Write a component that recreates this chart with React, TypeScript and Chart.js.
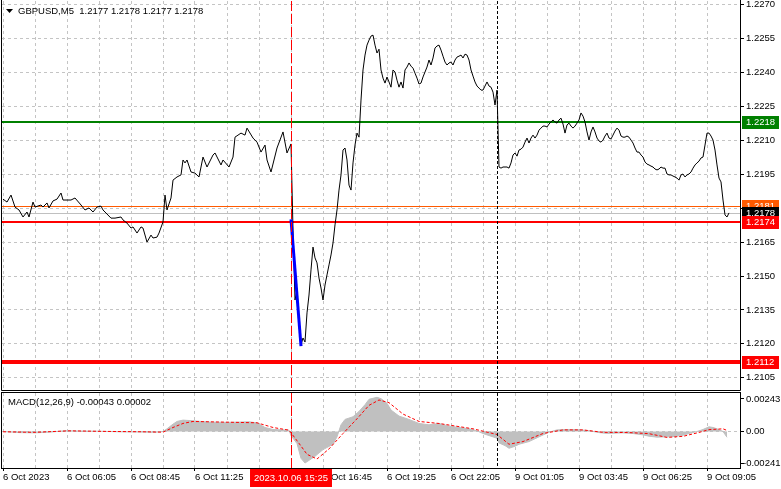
import React, { useEffect, useRef } from "react";
import { Chart, registerables } from "chart.js";
Chart.register(...registerables);

const FONT = '"Liberation Sans", Arial, sans-serif';
const FS = 9.5;

// ---- price (close) data: bar index -> close ----
const headBars = [0,2,4,6,8,10,12,13,15,16,19,20,22,23,25,27,29,30,34,36,39,41,43,45,47,49,50,54,56,59,60,62,64,65,67,69,70,72,74,75,77,78,80,81,82,84,85,87,89,90,91,92,94,96,98,100,102,105,106,109,110,113,115,116,119,121,122,125,127,129,131,132,134,137,140,142,144];
const headClose = [1.21840,1.21827,1.21858,1.21805,1.21792,1.21761,1.21783,1.21761,1.21827,1.21805,1.21814,1.21805,1.21823,1.21801,1.21832,1.21840,1.21867,1.21836,1.21836,1.21845,1.21814,1.21792,1.21801,1.21783,1.21805,1.21809,1.21792,1.21756,1.21756,1.21761,1.21748,1.21734,1.21712,1.21717,1.21690,1.21717,1.21712,1.21650,1.21681,1.21668,1.21672,1.21690,1.21739,1.21858,1.21792,1.21845,1.21924,1.21938,1.21947,1.22013,1.22000,1.22013,1.21960,1.21955,1.21938,1.22026,1.21982,1.22035,1.22044,1.21991,1.22013,1.21982,1.22026,1.22114,1.22132,1.22123,1.22154,1.22110,1.22092,1.22048,1.22079,1.22013,1.21960,1.22066,1.22137,1.22044,1.22084];
const tailStartBar = 145;
const tailClose = [
1.21703,1.21394,1.21438,1.21284,1.21195,1.21226,1.21208,1.21337,1.21416,1.21527,
1.21628,1.21580,1.21558,1.21491,1.21447,1.21394,1.21460,1.21505,1.21549,1.21593,
1.21646,1.21726,1.21792,1.21880,1.21947,1.22057,1.22066,1.22013,1.21902,1.21880,
1.22000,1.22079,1.22132,1.22114,1.22278,1.22411,1.22477,1.22521,1.22543,1.22561,
1.22565,1.22521,1.22486,1.22503,1.22411,1.22375,1.22353,1.22380,1.22358,1.22335,
1.22411,1.22402,1.22366,1.22335,1.22358,1.22331,1.22411,1.22424,1.22442,1.22428,
1.22419,1.22397,1.22375,1.22349,1.22353,1.22380,1.22402,1.22424,1.22455,1.22433,
1.22464,1.22508,1.22517,1.22521,1.22499,1.22472,1.22446,1.22433,1.22442,1.22446,
1.22433,1.22455,1.22468,1.22472,1.22477,1.22464,1.22481,1.22477,1.22455,1.22411,
1.22384,1.22358,1.22340,1.22331,1.22322,1.22322,1.22340,1.22358,1.22340,1.22335,
1.22313,1.22256,1.22322,1.21982,1.21977,1.21982,1.21982,1.21982,1.21977,1.22000,
1.22035,1.22044,1.22030,1.22057,1.22061,1.22070,1.22092,1.22110,1.22088,1.22110,
1.22123,1.22110,1.22123,1.22145,1.22154,1.22163,1.22163,1.22159,1.22172,1.22181,
1.22190,1.22181,1.22176,1.22190,1.22198,1.22172,1.22132,1.22168,1.22176,1.22163,
1.22154,1.22163,1.22176,1.22190,1.22221,1.22207,1.22181,1.22137,1.22101,1.22137,
1.22159,1.22137,1.22110,1.22097,1.22092,1.22101,1.22119,1.22132,1.22110,1.22106,
1.22123,1.22141,1.22154,1.22145,1.22119,1.22114,1.22114,1.22119,1.22114,1.22101,
1.22088,1.22066,1.22048,1.22048,1.22035,1.22026,1.22004,1.21995,1.21991,1.21986,
1.21982,1.21973,1.21969,1.21973,1.21982,1.21977,1.21977,1.21951,1.21947,1.21947,
1.21942,1.21938,1.21933,1.21924,1.21947,1.21951,1.21938,1.21947,1.21951,1.21960,
1.21977,1.21991,1.22000,1.22008,1.22022,1.22026,1.22079,1.22132,1.22132,1.22119,
1.22101,1.22057,1.21991,1.21933,1.21916,1.21836,1.21770,1.21761,1.21779];

// blue trend line
const trendBars = [144, 149];
const trendPrices = [1.2175, 1.2119];

// ---- MACD ----
const macdBars = [0,8,16,24,31,38,48,58,68,76,80,82,85,87,90,95,103,111,118,123,127,131,135,140,143,144,147,149,151,153,156,160,165,167,169,171,175,178,181,183,187,189,192,194,198,203,208,213,218,223,228,233,237,240,243,247,248,251,253,256,258,263,268,273,277,281,287,293,298,302,310,315,320,323,327,335,340,343,347,350,353,355,357,360,362];
const macdValues = [0,-0.00008,-0.00010,-0.00004,0.00006,0.00004,0.00002,-0.00002,-0.00004,-0.00006,
0,0.00020,0.00055,0.00075,0.00085,0.00080,0.00070,0.00068,0.00070,0.00072,
0.00065,0.00030,0.00015,0.00012,0.00010,-0.00030,-0.00090,-0.00200,-0.00235,-0.00215,
-0.00185,-0.00135,-0.00095,-0.00040,0.00050,0.00090,0.00110,0.00150,0.00200,0.00240,
0.00255,0.00245,0.00210,0.00160,0.00115,0.00090,0.00060,0.00050,0.00060,0.00040,
0.00030,0.00020,0.00005,-0.00015,-0.00030,-0.00050,-0.00085,-0.00105,-0.00125,-0.00110,
-0.00095,-0.00075,-0.00040,-0.00005,0.00012,0.00015,0.00014,0.00006,-0.00008,-0.00014,
-0.00010,-0.00015,-0.00025,-0.00035,-0.00042,-0.00038,-0.00028,-0.00015,0,0.00015,
0.00035,0.00030,0.00020,0,-0.00043];
const signalBars = [0,16,33,50,70,80,85,90,95,110,127,135,143,148,152,157,163,170,177,183,188,193,200,208,218,235,247,253,260,270,280,290,300,313,323,332,340,348,353,360,362];
const signalValues = [-0.00002,-0.00006,0.00005,0.00001,-0.00002,-0.00005,0.00030,0.00060,0.00075,0.00070,
0.00065,0.00030,0.00010,-0.00088,-0.00170,-0.00205,-0.00130,-0.00015,0.00095,0.00195,
0.00235,0.00215,0.00130,0.00075,0.00060,0.00020,-0.00022,-0.00095,-0.00075,-0.00015,
0.00012,0.00012,-0.00006,-0.00008,-0.00016,-0.00044,-0.00036,-0.00007,0.00014,0.00020,0.00008];

// ---- axes ----
const priceTicks = [1.2105,1.2120,1.2135,1.2150,1.2165,1.2180,1.2195,1.2210,1.2225,1.2240,1.2255,1.2270];
const priceTickLabels = ["1.2105","1.2120","1.2135","1.2150","1.2165","","1.2195","1.2210","1.2225","1.2240","1.2255","1.2270"];
const macdTicks = [-0.00241, 0, 0.00243];
const macdTickLabels = ["-0.00241", "0.00", "0.00243"];
const gridBars = [0,16,32,48,64,80,96,112,128,144,160,176,192,208,224,240,256,272,288,304,320,336,352];
const timeTickBars = [0,32,64,96,128,160,192,224,256,288,320,352];
const timeLabels = ["6 Oct 2023","6 Oct 06:05","6 Oct 08:45","6 Oct 11:25","6 Oct 14:05","6 Oct 16:45","6 Oct 19:25","6 Oct 22:05","9 Oct 01:05","9 Oct 03:45","9 Oct 06:25","9 Oct 09:05"];

// horizontal levels
const levelPrices = [1.2218, 1.2181, 1.2178, 1.2174, 1.2112];
const levelLabels = ["1.2218", "1.2181", "1.2178", "1.2174", "1.2112"];
const levelLineColors = ["#008000", "#FF5a00", "#C0C0C0", "#FF0000", "#FF0000"];
const levelTagColors = ["#008000", "#FF5a00", "#000000", "#FF0000", "#FF0000"];
const levelWidths = [2, 1, 1, 2, 4];

const crossBar = 144;
const crossLabel = "2023.10.06 15:25";
const separatorBar = 247;
const mainTitle = "GBPUSD,M5  1.2177 1.2178 1.2177 1.2178";
const macdTitle = "MACD(12,26,9) -0.00043 0.00002";

const BAR_MIN = -0.5;
const BAR_MAX = 368.5;
const GRID = "#C4C4C4";

function zeroPad(s: any) {
  s.paddingTop = 0;
  s.paddingBottom = 0;
  s.paddingLeft = 0;
  s.paddingRight = 0;
}

function drawVLines(chart: any) {
  const { ctx, chartArea: a, scales } = chart;
  const x = scales.x;
  ctx.save();
  ctx.lineWidth = 1;
  let px = Math.round(x.getPixelForValue(separatorBar)) + 0.5;
  ctx.strokeStyle = "#000";
  ctx.setLineDash([3, 2]);
  ctx.beginPath(); ctx.moveTo(px, a.top); ctx.lineTo(px, a.bottom); ctx.stroke();
  px = Math.round(x.getPixelForValue(crossBar)) + 0.5;
  ctx.strokeStyle = "#FF0000";
  ctx.setLineDash([10, 3]);
  ctx.beginPath(); ctx.moveTo(px, a.top); ctx.lineTo(px, a.bottom); ctx.stroke();
  ctx.restore();
}

const mainPlugin = {
  id: "mainDecor",
  beforeDatasetsDraw(chart: any) {
    const { ctx, chartArea: a, scales } = chart;
    ctx.save();
    levelPrices.forEach((p, i) => {
      const w = levelWidths[i];
      let py = scales.y.getPixelForValue(p);
      py = w % 2 === 1 ? Math.round(py) + 0.5 : Math.round(py);
      ctx.strokeStyle = levelLineColors[i];
      ctx.lineWidth = w;
      ctx.beginPath(); ctx.moveTo(a.left, py); ctx.lineTo(a.right, py); ctx.stroke();
    });
    ctx.restore();
  },
  afterDatasetsDraw(chart: any) {
    drawVLines(chart);
  },
  afterDraw(chart: any) {
    const { ctx, chartArea: a, scales } = chart;
    ctx.save();
    ctx.strokeStyle = "#000";
    ctx.lineWidth = 1;
    ctx.beginPath();
    ctx.moveTo(a.left - 0.5, 0); ctx.lineTo(a.left - 0.5, a.bottom + 0.5);
    ctx.lineTo(a.right + 0.5, a.bottom + 0.5); ctx.lineTo(a.right + 0.5, 0);
    ctx.stroke();
    // tags
    ctx.font = `${FS}px ${FONT}`;
    ctx.textBaseline = "middle";
    ctx.textAlign = "left";
    levelPrices.forEach((p, i) => {
      const py = Math.round(scales.y.getPixelForValue(p));
      ctx.fillStyle = levelTagColors[i];
      ctx.fillRect(a.right + 2, py - 6, 37, 13);
      ctx.fillStyle = "#fff";
      ctx.fillText(levelLabels[i], a.right + 6, py + 0.5);
    });
    // title
    ctx.fillStyle = "#000";
    ctx.beginPath();
    ctx.moveTo(6, 9); ctx.lineTo(13, 9); ctx.lineTo(9.5, 13); ctx.closePath(); ctx.fill();
    ctx.font = `${FS}px ${FONT}`;
    ctx.fillText(mainTitle, 18, 11);
    ctx.restore();
  },
};

const macdPlugin = {
  id: "macdDecor",
  afterDatasetsDraw(chart: any) {
    drawVLines(chart);
  },
  afterDraw(chart: any) {
    const { ctx, chartArea: a, scales } = chart;
    ctx.save();
    ctx.strokeStyle = "#000";
    ctx.lineWidth = 1;
    ctx.strokeRect(a.left - 0.5, a.top - 0.5, a.right - a.left + 1, a.bottom - a.top + 1);
    ctx.font = `${FS}px ${FONT}`;
    ctx.textBaseline = "middle";
    ctx.textAlign = "left";
    ctx.fillStyle = "#000";
    ctx.fillText(macdTitle, 8, 10);
    // value axis labels (placed on the library's scale)
    macdTicks.forEach((v, i) => {
      const py = scales.y.getPixelForValue(v);
      ctx.fillText(macdTickLabels[i], a.right + (v < 0 ? 3 : 6), py);
    });
    // crosshair time tag
    const cx = Math.round(scales.x.getPixelForValue(crossBar));
    const tw = ctx.measureText(crossLabel).width + 8;
    ctx.fillStyle = "#FF0000";
    ctx.fillRect(cx - tw / 2, a.bottom + 1, tw, 18);
    ctx.fillStyle = "#fff";
    ctx.fillText(crossLabel, cx - tw / 2 + 4, a.bottom + 10);
    ctx.restore();
  },
};

export default function App() {
  const mainRef = useRef<HTMLCanvasElement>(null);
  const macdRef = useRef<HTMLCanvasElement>(null);

  useEffect(() => {
    const pricePts = headBars.map((b, i) => ({ x: b, y: headClose[i] }))
      .concat(tailClose.map((c, i) => ({ x: tailStartBar + i, y: c })));

    const xGridCommon = {
      type: "linear" as const,
      min: BAR_MIN,
      max: BAR_MAX,
      afterBuildTicks: (s: any) => { s.ticks = gridBars.map((v) => ({ value: v })); },
      border: { display: false, dash: [3, 3] },
    };

    const c1 = new Chart(mainRef.current as HTMLCanvasElement, {
      type: "line",
      data: {
        datasets: [
          { data: trendBars.map((b, i) => ({ x: b, y: trendPrices[i] })), borderColor: "#0000FF", borderWidth: 3, pointRadius: 0, tension: 0, order: 0 },
          { data: pricePts, borderColor: "#000", borderWidth: 1, pointRadius: 0, tension: 0, order: 1 },
        ],
      },
      options: {
        animation: false,
        responsive: false,
        maintainAspectRatio: false,
        layout: { padding: { left: 2, top: 1, right: 0, bottom: 2 } },
        plugins: { legend: { display: false }, tooltip: { enabled: false } },
        scales: {
          x: {
            ...xGridCommon,
            ticks: { display: false },
            grid: { color: GRID, drawTicks: false },
            afterFit: (s: any) => { s.height = 0; zeroPad(s); },
          },
          y: {
            position: "right",
            min: 1.20996,
            max: 1.22716,
            afterBuildTicks: (s: any) => { s.ticks = priceTicks.map((v) => ({ value: v })); },
            afterFit: (s: any) => { s.width = 41; zeroPad(s); },
            ticks: {
              color: "#000",
              font: { family: FONT, size: FS },
              padding: 2,
              callback: (_v: any, i: number) => priceTickLabels[i],
            },
            grid: { color: GRID, tickColor: "#000", tickLength: 4, tickBorderDash: [] },
            border: { display: false, dash: [3, 3] },
          },
        },
      } as any,
      plugins: [mainPlugin],
    });

    const c2 = new Chart(macdRef.current as HTMLCanvasElement, {
      type: "line",
      data: {
        datasets: [
          { data: signalBars.map((b, i) => ({ x: b, y: signalValues[i] })), borderColor: "#FF0000", borderWidth: 1, borderDash: [3, 2], pointRadius: 0, tension: 0, order: 0 },
          { data: macdBars.map((b, i) => ({ x: b, y: macdValues[i] })), borderColor: "#C0C0C0", backgroundColor: "#C0C0C0", borderWidth: 1, fill: "origin", pointRadius: 0, tension: 0, order: 1 },
        ],
      },
      options: {
        animation: false,
        responsive: false,
        maintainAspectRatio: false,
        layout: { padding: { left: 2, top: 1, right: 0, bottom: 0 } },
        plugins: { legend: { display: false }, tooltip: { enabled: false } },
        scales: {
          x: {
            ...xGridCommon,
            afterFit: (s: any) => { s.height = 21; zeroPad(s); },
            ticks: {
              autoSkip: false,
              maxRotation: 0,
              minRotation: 0,
              align: "start",
              padding: 1,
              color: "#000",
              font: { family: FONT, size: FS },
              callback: (v: any) => {
                const k = timeTickBars.indexOf(v);
                return k >= 0 ? timeLabels[k] : "";
              },
            },
            grid: {
              color: GRID,
              tickLength: 3,
              tickColor: (c: any) => (timeTickBars.indexOf(c.tick?.value) >= 0 ? "#000" : "rgba(0,0,0,0)"),
              tickBorderDash: [],
            },
          },
          y: {
            position: "right",
            min: -0.00272,
            max: 0.00287,
            afterBuildTicks: (s: any) => { s.ticks = macdTicks.map((v) => ({ value: v })); },
            afterFit: (s: any) => { s.width = 41; zeroPad(s); },
            ticks: {
              display: true,
              color: "rgba(0,0,0,0)",
              font: { family: FONT, size: FS },
              padding: 2,
              callback: (_v: any, i: number) => macdTickLabels[i],
            },
            grid: {
              color: (c: any) => (c.tick && c.tick.value === 0 ? GRID : "rgba(0,0,0,0)"),
              tickColor: "#000",
              tickLength: 4,
              tickBorderDash: [],
            },
            border: { display: false, dash: [3, 3] },
          },
        },
      } as any,
      plugins: [macdPlugin],
    });

    return () => { c1.destroy(); c2.destroy(); };
  }, []);

  return (
    <div style={{ position: "fixed", left: 0, top: 0, width: 781, height: 489, background: "#fff", overflow: "hidden" }}>
      <canvas ref={mainRef} width={781} height={392} style={{ position: "absolute", left: 0, top: 0, width: 781, height: 392 }} />
      <canvas ref={macdRef} width={781} height={97} style={{ position: "absolute", left: 0, top: 392, width: 781, height: 97 }} />
    </div>
  );
}
